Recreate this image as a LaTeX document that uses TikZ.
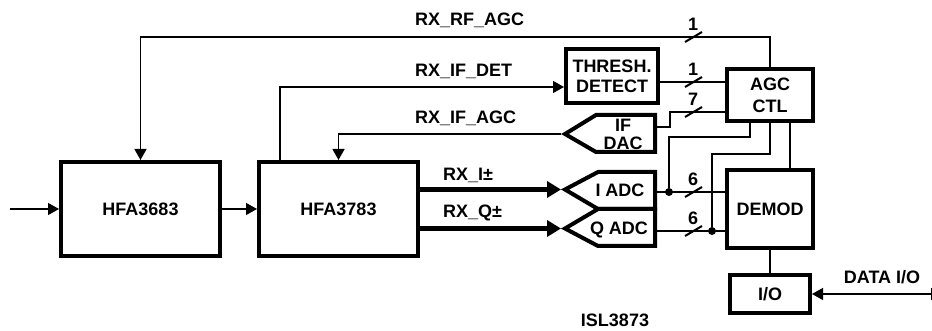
\documentclass[tikz,border=0pt]{standalone}
\usepackage{fontspec}
\setmainfont{Liberation Sans}
\usetikzlibrary{arrows.meta, calc}

\tikzset{
  blk/.style={draw, line width=4pt, inner sep=0pt, align=center},
  adcline/.style={line width=4pt, line join=miter},
  wire/.style={line width=1.3pt},
  bus/.style={line width=4.5pt},
  arr/.style={-{Triangle[length=11pt,width=12pt]}},
  busarr/.style={-{Triangle[length=14pt,width=16pt]}},
  junction/.style={circle, fill, inner sep=0pt, minimum size=8pt},
  lbl/.style={inner sep=0pt},
}

\begin{document}
\begin{tikzpicture}[x=1pt, y=-1pt, font=\fontsize{18}{20}\selectfont\bfseries]
    \useasboundingbox (0,0) rectangle (932,331);
    %ブロックを置く
    \node[blk, minimum width=159, minimum height=94] (hfa1) at (140.5,209) {HFA3683};
    \node[blk, minimum width=159, minimum height=94] (hfa2) at (338.5,209) {HFA3783};
    \node[blk, minimum width=92, minimum height=54] (thr) at (612,76) {THRESH.\\DETECT};
    \node[blk, minimum width=86, minimum height=52, font=\fontsize{18}{22}\selectfont\bfseries] (agc) at (770,95) {AGC\\CTL};
    \node[blk, minimum width=86, minimum height=78] (demod) at (770,209) {DEMOD};
    \node[blk, minimum width=80, minimum height=38] (io) at (770,294) {I/O};
    %DACとADCの形
    \draw[adcline] (565,134) -- (596,115) -- (655,115) -- (655,152) -- (596,152) -- cycle;
    \draw[adcline] (565,189.5) -- (598,172) -- (655,172) -- (655,209) -- (598,209) -- cycle;
    \draw[adcline] (565,228.5) -- (598,209) -- (655,209) -- (655,246) -- (598,246) -- cycle;
    \node[lbl, font=\fontsize{18}{18}\selectfont\bfseries, align=center] (dac) at (623,134) {IF\\DAC};
    \node (iadc) at (620,190) {I ADC};
    \node (qadc) at (619,230) {Q ADC};
    \coordinate (dactip) at (561,134);
    \coordinate (dacout) at (657,127);
    \coordinate (itip) at (561,189.5);
    \coordinate (qtip) at (561,228.5);
    \coordinate (iout) at (657,192);
    \coordinate (qout) at (657,231);
    \coordinate (rfin) at (10,209);
    \coordinate (dataio) at (942,294);
    %信号線
    \draw[wire, arr] (rfin) -- (hfa1.west);
    \draw[wire, arr] (hfa1.east) -- (hfa2.west);
    \draw[wire, arr] (agc.north) |- (hfa1.north |- 0,37) -- (hfa1.north);
    \draw[wire, arr] (hfa2.north -| 280,0) |- ($(thr.west)+(0,11)$);
    \draw[wire] ($(thr.east)+(0,6)$) -- ($(agc.west)+(0,-13)$);
    \draw[wire] ($(agc.west)+(0,17)$) -| (670,127) -- (dacout);
    \draw[wire, arr] (dactip) -| (hfa2.north);
    \draw[bus, busarr] (hfa2.east |- itip) -- (itip);
    \draw[bus, busarr] (hfa2.east |- qtip) -- (qtip);
    \draw[wire] (iout) -- (iout -| demod.west);
    \draw[wire] (qout) -- (qout -| demod.west);
    \node[junction] (idot) at (669,192) {};
    \node[junction] (qdot) at (712,231) {};
    \draw[wire] ($(agc.south)+(-20,0)$) |- (idot |- 0,137) -- (idot);
    \draw[wire] (agc.south) |- (qdot |- 0,154) -- (qdot);
    \draw[wire] ($(agc.south)+(20,0)$) -- ($(demod.north)+(20,0)$);
    \draw[wire] (demod.south) -- (io.north);
    \draw[wire, {Triangle[length=11pt,width=12pt]}-{Triangle[length=11pt,width=12pt]}] (io.east) -- (dataio);
    %ビット幅の印
    \foreach \y/\n [count=\i] in {37/1, 82/1, 112/7, 192/6, 231/6} {
        \draw[line width=2pt] (685,\y+5) -- (702,\y-5);
        \node[lbl] (bw\i) at (693,\y-13) {\n};
    }
    %ラベル
    \node[lbl, anchor=west] (lrf) at (415,20) {RX\_RF\_AGC};
    \node[lbl, anchor=west] (ldet) at (415,71) {RX\_IF\_DET};
    \node[lbl, anchor=west] (lif) at (415,118) {RX\_IF\_AGC};
    \node[lbl, anchor=west] (li) at (443,175) {RX\_I±};
    \node[lbl, anchor=west] (lq) at (443,213) {RX\_Q±};
    \node[lbl] (ldata) at (882,277) {DATA I/O};
    \node[lbl] (lchip) at (615,320) {ISL3873};
\end{tikzpicture}
\end{document}
